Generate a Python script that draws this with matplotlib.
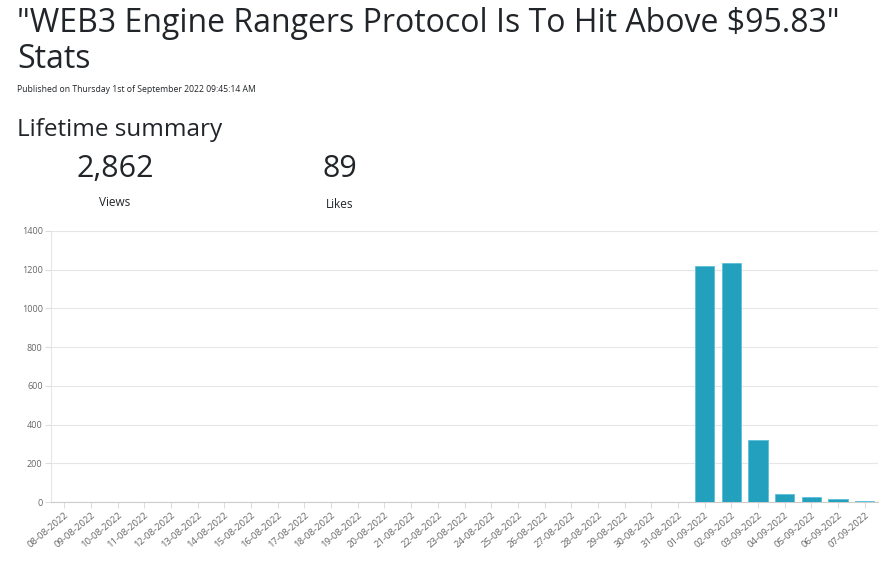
import matplotlib.pyplot as plt
import numpy as np

# 日付ラベル (08-08-2022 ~ 07-09-2022)
dates = ["08-08-2022", "09-08-2022", "10-08-2022", "11-08-2022", "12-08-2022",
         "13-08-2022", "14-08-2022", "15-08-2022", "16-08-2022", "17-08-2022",
         "18-08-2022", "19-08-2022", "20-08-2022", "21-08-2022", "22-08-2022",
         "23-08-2022", "24-08-2022", "25-08-2022", "26-08-2022", "27-08-2022",
         "28-08-2022", "29-08-2022", "30-08-2022", "31-08-2022", "01-09-2022",
         "02-09-2022", "03-09-2022", "04-09-2022", "05-09-2022", "06-09-2022",
         "07-09-2022"]
views = [0] * 24 + [1218, 1233, 320, 43, 26, 15, 7]
y_ticks = [0, 200, 400, 600, 800, 1000, 1200, 1400]

title = '"WEB3 Engine Rangers Protocol Is To Hit Above $95.83"\nStats'
published = "Published on Thursday 1st of September 2022 09:45:14 AM"
total_views = "2,862"
total_likes = "89"

plt.rcParams['font.family'] = ['Open Sans', 'DejaVu Sans']

W, H = 892, 572
fig = plt.figure(figsize=(W / 100, H / 100), dpi=100)

dark = "#212529"
fig.text(17 / W, 1 - 7 / H, title, fontsize=23, color=dark, va="top", ha="left",
         linespacing=1.12, fontweight="medium")
fig.text(17 / W, 1 - 90 / H, published, fontsize=6.2, color=dark, va="center")
fig.text(17 / W, 1 - 130 / H, "Lifetime summary", fontsize=17.5, color=dark, va="center",
         fontweight="medium")
fig.text(115 / W, 1 - 169 / H, total_views, fontsize=22, color=dark, ha="center", va="center",
         fontweight="medium")
fig.text(340 / W, 1 - 169 / H, total_likes, fontsize=22, color=dark, ha="center", va="center",
         fontweight="medium")
fig.text(115 / W, 1 - 203 / H, "Views", fontsize=8.5, color=dark, ha="center", va="center")
fig.text(340 / W, 1 - 204 / H, "Likes", fontsize=8.5, color=dark, ha="center", va="center")

# グラフ領域
ax = fig.add_axes([51 / W, (H - 502) / H, (878 - 51) / W, (502 - 231) / H])
x = np.arange(len(dates))
ax.bar(x, views, width=0.72, color="#24a0bf", edgecolor="#5bc0d8", linewidth=0.6, zorder=3)
ax.set_xlim(-0.5, len(dates) - 0.5)
ax.set_ylim(0, 1400)
ax.set_yticks(y_ticks)
ax.set_xticks(x)
ax.set_xticklabels(dates, rotation=40, ha="right", rotation_mode="anchor")
ax.tick_params(axis="x", labelsize=6.8, colors="#666666", length=4, color="#dddddd", pad=2)
ax.tick_params(axis="y", labelsize=6.5, colors="#666666", length=4, color="#dddddd", pad=2)
ax.grid(axis="y", color="#e6e6e6", linewidth=0.8, zorder=0)
for s in ["top", "right"]:
    ax.spines[s].set_visible(False)
ax.spines["left"].set_color("#e6e6e6")
ax.spines["bottom"].set_color("#cccccc")

fig.savefig("out.png", dpi=100)
